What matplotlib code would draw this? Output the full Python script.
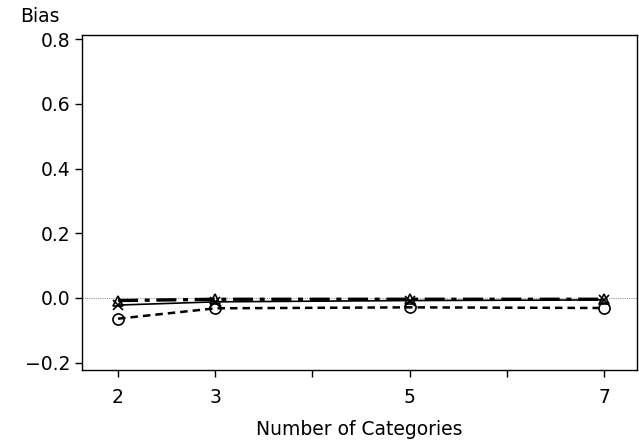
import matplotlib
matplotlib.use("Agg")
import matplotlib.pyplot as plt

categories = [2, 3, 5, 7]
bias_triangle = [-0.008, -0.004, -0.004, -0.004]
bias_x = [-0.022, -0.012, -0.008, -0.006]
bias_circle = [-0.064, -0.032, -0.029, -0.031]
xticks = [2, 3, 4, 5, 6, 7]
xticklabels = ["2", "3", "", "5", "", "7"]
yticks = [-0.2, 0.0, 0.2, 0.4, 0.6, 0.8]
yticklabels = ["\u22120.2", "0.0", "0.2", "0.4", "0.6", "0.8"]

plt.rcParams['font.family'] = ['DejaVu Sans']
FS = 13.5
fig = plt.figure(figsize=(6.39, 4.42), dpi=100)
ax = fig.add_axes([0.128, 0.163, 0.869, 0.758])

ax.axhline(0, color="#999999", lw=0.8, ls=(0, (1, 1)), zorder=1)

ax.plot(categories, bias_circle, color="black", lw=1.8, ls=(0, (3, 2)),
        marker="o", ms=8, mfc="none", mec="black", mew=1.2, zorder=3)
ax.plot(categories, bias_x, color="black", lw=1.2, ls="-",
        marker="x", ms=7, mec="black", mew=1.2, zorder=3)
ax.plot(categories, bias_triangle, color="black", lw=2.4, ls=(0, (6, 2, 1.5, 2)),
        marker="^", ms=7, mfc="none", mec="black", mew=1.2, zorder=3)

ax.set_xlim(1.627, 7.34)
ax.set_ylim(-0.2225, 0.813)
ax.set_xticks(xticks)
ax.set_xticklabels(xticklabels, fontsize=FS)
ax.set_yticks(yticks)
ax.set_yticklabels(yticklabels, fontsize=FS)
ax.tick_params(axis="x", direction="out", length=5, width=1, top=False, pad=8)
ax.tick_params(axis="y", direction="out", length=5, width=1, right=False, pad=3)
for s in ax.spines.values():
    s.set_linewidth(1.0)

ax.set_xlabel("Number of Categories", fontsize=FS, labelpad=9)
fig.text(20 / 639, 1 - 22 / 442, "Bias", fontsize=FS, ha="left", va="baseline")

fig.savefig("out.png", dpi=100)
